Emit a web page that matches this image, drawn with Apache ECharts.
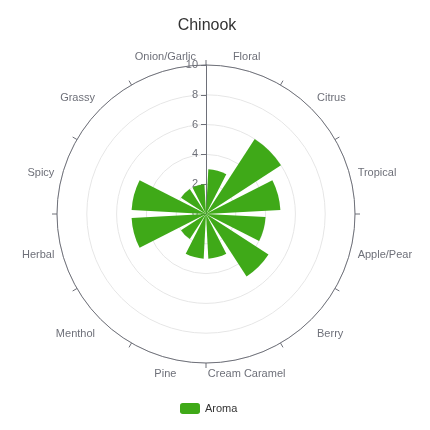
<!DOCTYPE html>
<html><head><meta charset="utf-8">
<script src="https://cdn.jsdelivr.net/npm/echarts@6/dist/echarts.min.js"></script>
<style>html,body{margin:0;padding:0;background:#fff}#c{width:430px;height:430px}</style>
</head><body><div id="c"></div>
<script>
const categories = ['Floral','Citrus','Tropical','Apple/Pear','Berry','Cream Caramel','Pine','Menthol','Herbal','Spicy','Grassy','Onion/Garlic'];
const aromaValues = [3,6,5,4,5,3,3,2,5,5,2,2];
const radiusTicks = [0,2,4,6,8,10];
const chart = echarts.init(document.getElementById('c'));
chart.setOption({
  title:{text:'Chinook',left:202,textAlign:'center',top:13,textStyle:{fontSize:16,fontWeight:'normal',color:'#333'}},
  legend:{data:['Aroma'],top:398,left:175,itemWidth:20,itemHeight:11,itemGap:5,textStyle:{fontSize:11,color:'#333'}},
  polar:{center:[206,214],radius:149},
  angleAxis:{type:'category',data:categories,startAngle:90,clockwise:true,z:10,
    axisLine:{show:true,lineStyle:{color:'#6E7079',width:1,type:'solid'}},axisTick:{show:true,lineStyle:{color:'#6E7079'}},
    axisLabel:{color:'#6E7079',fontSize:11,padding:[3,0,0,0]},splitLine:{show:false}},
  radiusAxis:{type:'value',min:radiusTicks[0],max:radiusTicks[radiusTicks.length-1],interval:2,
    axisLine:{show:true,lineStyle:{color:'#6E7079'}},axisTick:{show:true},
    axisLabel:{color:'#6E7079',fontSize:11},splitLine:{show:true,showMaxLine:false,lineStyle:{color:'#E6E6E6'}},z:1},
  series:[{name:'Aroma',type:'bar',coordinateSystem:'polar',data:aromaValues,itemStyle:{color:'#3fa918'},z:3}]
});
</script></body></html>
